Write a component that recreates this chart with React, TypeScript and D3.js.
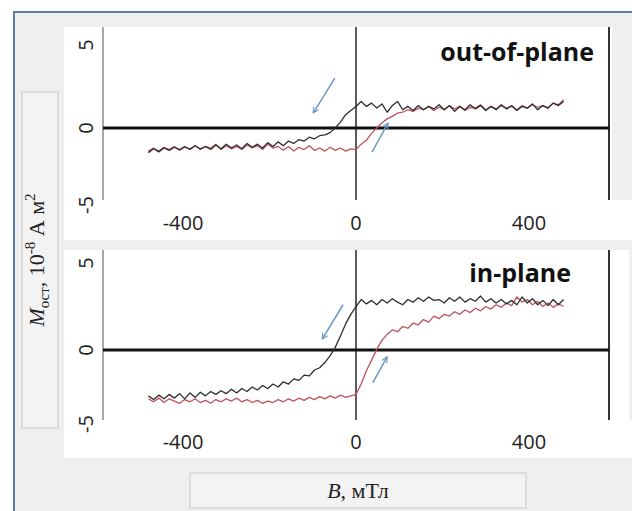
import { useEffect, useRef } from "react";
import * as d3 from "d3";

// поле B, мТл (общая сетка для всех кривых)
const fieldB = [
  -480, -468, -456, -444, -432, -420, -408, -396, -384, -372, -360, -348, -336, -324, -312, -300,
  -288, -276, -264, -252, -240, -228, -216, -204, -192, -180, -168, -156, -144, -132, -120, -108,
  -96, -84, -72, -60, -48, -36, -24, -12, 0, 12, 24, 36, 48, 60, 72, 84, 96, 108, 120, 132, 144,
  156, 168, 180, 192, 204, 216, 228, 240, 252, 264, 276, 288, 300, 312, 324, 336, 348, 360, 372,
  384, 396, 408, 420, 432, 444, 456, 468, 480,
];

// out-of-plane: спуск (чёрная) и подъём (красная)
const outDown = [
  -1.6, -1.35, -1.55, -1.3, -1.45, -1.25, -1.4, -1.2, -1.4, -1.15, -1.35, -1.2, -1.4, -1.1, -1.35, -1.05,
  -1.3, -1.1, -1.35, -1.0, -1.25, -1.05, -1.3, -0.95, -1.2, -0.9, -1.15, -0.85, -1.0, -0.75, -0.85, -0.6,
  -0.7, -0.5, -0.45, -0.3, 0.0, 0.35, 0.8, 1.05, 1.3, 1.6, 1.3, 1.5, 1.2, 1.45, 0.95, 1.35, 1.6, 1.1,
  1.3, 1.05, 1.35, 1.1, 1.3, 1.15, 1.4, 1.1, 1.35, 1.0, 1.3, 1.1, 1.4, 1.15, 1.35, 1.05, 1.3, 1.1, 1.4,
  1.15, 1.35, 1.05, 1.3, 1.2, 1.45, 1.1, 1.35, 1.2, 1.5, 1.35, 1.6,
];
const outUp = [
  -1.5, -1.3, -1.5, -1.25, -1.4, -1.2, -1.45, -1.25, -1.35, -1.15, -1.4, -1.2, -1.3, -1.05, -1.4, -1.15,
  -1.35, -1.2, -1.4, -1.1, -1.3, -1.15, -1.4, -1.05, -1.3, -1.2, -1.45, -1.2, -1.5, -1.25, -1.4, -1.15,
  -1.45, -1.3, -1.5, -1.25, -1.45, -1.3, -1.5, -1.35, -1.4, -1.05, -0.8, -0.35, 0.0, 0.3, 0.55, 0.7,
  0.9, 0.95, 1.1, 1.0, 1.2, 1.1, 1.3, 1.05, 1.25, 1.1, 1.35, 1.15, 1.3, 1.05, 1.25, 1.2, 1.4, 1.1, 1.3,
  1.15, 1.35, 1.2, 1.3, 1.1, 1.35, 1.2, 1.4, 1.25, 1.35, 1.2, 1.5, 1.4, 1.7,
];

// in-plane
const inDown = [
  -3.1, -3.35, -3.05, -3.3, -3.0, -3.25, -2.95, -3.3, -2.9, -3.2, -2.85, -3.1, -2.8, -3.0, -2.75, -2.95,
  -2.65, -2.9, -2.6, -2.8, -2.5, -2.7, -2.4, -2.6, -2.3, -2.5, -2.15, -2.3, -1.95, -2.05, -1.7, -1.75,
  -1.35, -1.2, -0.85, -0.4, 0.15, 0.8, 1.5, 2.05, 2.5, 2.9, 2.65, 2.85, 2.6, 2.9, 2.7, 2.95, 2.75, 2.6,
  2.9, 2.75, 3.0, 2.8, 3.05, 2.85, 2.9, 2.7, 3.0, 2.8, 3.05, 2.75, 2.95, 2.8, 3.1, 2.75, 2.95, 2.7, 2.9,
  2.65, 2.85, 2.6, 3.05, 2.7, 2.95, 2.6, 2.85, 2.55, 2.9, 2.6, 2.9,
];
const inUp = [
  -3.3, -3.5, -3.25, -3.55, -3.3, -3.45, -3.6, -3.35, -3.5, -3.3, -3.55, -3.4, -3.6, -3.35, -3.5, -3.3,
  -3.45, -3.25, -3.5, -3.35, -3.55, -3.4, -3.6, -3.45, -3.55, -3.35, -3.5, -3.3, -3.45, -3.25, -3.4, -3.2,
  -3.35, -3.15, -3.3, -3.1, -3.25, -3.05, -3.2, -3.1, -3.0, -2.3, -1.4, -0.7, 0.05, 0.55, 0.9, 1.15,
  1.05, 1.35, 1.25, 1.55, 1.45, 1.75, 1.6, 1.95, 1.8, 2.05, 1.95, 2.2, 2.05, 2.3, 2.15, 2.4, 2.25, 2.5,
  2.35, 2.6, 2.45, 2.7, 2.55, 3.05, 2.75, 2.9, 2.6, 2.8, 2.5, 2.7, 2.45, 2.65, 2.5,
];

const xTicks = [-400, 0, 400];
const yTicks = [5, 0, -5];

// стрелки: [B0, M0, B1, M1]
const outArrows = [
  [-49, 3.0, -99, 0.9],
  [37, -1.56, 74, 0.3],
];
const inArrows = [
  [-30, 2.6, -78, 0.63],
  [39, -2.2, 72, -0.47],
];

const sans = "'Open Sans', 'Liberation Sans', sans-serif";
const serif = "'Liberation Serif', 'DejaVu Serif', serif";

export default function App() {
  const ref = useRef<SVGSVGElement | null>(null);

  useEffect(() => {
    if (!ref.current) return;
    const svg = d3.select(ref.current);
    svg.selectAll("*").remove();

    // рамка
    svg.append("rect")
      .attr("x", 14).attr("y", 12).attr("width", 640).attr("height", 520)
      .attr("fill", "#efefef").attr("stroke", "#5e7fa3").attr("stroke-width", 2);

    const x = d3.scaleLinear().domain([-585, 585]).range([103, 609]);

    const panels = [
      {
        title: "out-of-plane", titleX: 594, titleY: 61,
        down: outDown, up: outUp, arrows: outArrows,
        yRange: [205, 128, 45], top: 27, lineEnd: 200, bandBottom: 240,
        panelRight: 612, tickY: 222,
      },
      {
        title: "in-plane", titleX: 571, titleY: 282,
        down: inDown, up: inUp, arrows: inArrows,
        yRange: [424, 350, 263], top: 250, lineEnd: 420, bandBottom: 458,
        panelRight: 629, tickY: 441,
      },
    ];

    const defs = svg.append("defs");
    defs.append("marker")
      .attr("id", "head")
      .attr("viewBox", "0 0 10 10")
      .attr("refX", 9).attr("refY", 5)
      .attr("markerWidth", 7).attr("markerHeight", 7)
      .attr("markerUnits", "userSpaceOnUse")
      .attr("orient", "auto")
      .append("path")
      .attr("d", "M1,1 L9,5 L1,9")
      .attr("fill", "none")
      .attr("stroke", "#6a98c4")
      .attr("stroke-width", 1.6);

    panels.forEach((p) => {
      const y = d3.scaleLinear().domain([-5, 0, 5]).range(p.yRange);
      const g = svg.append("g");

      // белая подложка
      g.append("rect")
        .attr("x", 64).attr("y", p.top).attr("width", p.panelRight - 64).attr("height", p.bandBottom - p.top)
        .attr("fill", "#ffffff");
      g.append("rect")
        .attr("x", 64).attr("y", p.lineEnd).attr("width", 632 - 64).attr("height", p.bandBottom - p.lineEnd)
        .attr("fill", "#ffffff");

      // оси
      g.append("line")
        .attr("x1", x(-585)).attr("x2", x(-585)).attr("y1", p.top).attr("y2", p.lineEnd)
        .attr("stroke", "#8a8a8a").attr("stroke-width", 1.5);
      g.append("line")
        .attr("x1", x(0)).attr("x2", x(0)).attr("y1", p.top).attr("y2", p.lineEnd)
        .attr("stroke", "#333").attr("stroke-width", 1.6);
      g.append("line")
        .attr("x1", x(585)).attr("x2", x(585)).attr("y1", p.top).attr("y2", p.lineEnd)
        .attr("stroke", "#333").attr("stroke-width", 2);
      g.append("line")
        .attr("x1", x(-585)).attr("x2", x(585)).attr("y1", y(0)).attr("y2", y(0))
        .attr("stroke", "#111").attr("stroke-width", 3);

      // подписи делений
      g.selectAll(".yt").data(yTicks).enter().append("text")
        .attr("transform", (d) => `translate(85,${y(d)}) rotate(-90)`)
        .attr("text-anchor", "middle").attr("dominant-baseline", "central")
        .attr("font-family", sans).attr("font-size", 20).attr("fill", "#222")
        .text((d) => String(d));
      g.selectAll(".xt").data(xTicks).enter().append("text")
        .attr("x", (d) => x(d)).attr("y", p.tickY)
        .attr("text-anchor", "middle").attr("dominant-baseline", "central")
        .attr("font-family", sans).attr("font-size", 20).attr("fill", "#222")
        .text((d) => String(d));

      // кривые
      const line = d3.line<number>()
        .x((_, i) => x(fieldB[i]))
        .y((d) => y(d));
      g.append("path").datum(p.up)
        .attr("fill", "none").attr("stroke", "#c0525c").attr("stroke-width", 1.3)
        .attr("stroke-linejoin", "round").attr("d", line);
      g.append("path").datum(p.down)
        .attr("fill", "none").attr("stroke", "#2e2e2e").attr("stroke-width", 1.3)
        .attr("stroke-linejoin", "round").attr("d", line);

      // стрелки
      g.selectAll(".arr").data(p.arrows).enter().append("line")
        .attr("x1", (d) => x(d[0])).attr("y1", (d) => y(d[1]))
        .attr("x2", (d) => x(d[2])).attr("y2", (d) => y(d[3]))
        .attr("stroke", "#6a98c4").attr("stroke-width", 1.5)
        .attr("marker-end", "url(#head)");

      g.append("text")
        .attr("x", p.titleX).attr("y", p.titleY)
        .attr("text-anchor", "end")
        .attr("font-family", sans).attr("font-weight", 700).attr("font-size", 25)
        .attr("fill", "#111")
        .text(p.title);
    });

    // подписи осей
    svg.append("rect")
      .attr("x", 22).attr("y", 92).attr("width", 36).attr("height", 336)
      .attr("fill", "#f3f3f3").attr("stroke", "#d6d6d6").attr("stroke-width", 1.5);
    const yl = svg.append("text")
      .attr("transform", "translate(44,260) rotate(-90)")
      .attr("text-anchor", "middle")
      .attr("font-family", serif).attr("font-size", 22).attr("fill", "#222");
    yl.append("tspan").attr("font-style", "italic").text("M");
    yl.append("tspan").attr("font-size", 15).attr("dy", 5).text("ост");
    yl.append("tspan").attr("dy", -5).text(", 10");
    yl.append("tspan").attr("font-size", 15).attr("dy", -9).text("-8");
    yl.append("tspan").attr("dy", 9).text(" А м");
    yl.append("tspan").attr("font-size", 15).attr("dy", -9).text("2");

    svg.append("rect")
      .attr("x", 190).attr("y", 473).attr("width", 336).attr("height", 35)
      .attr("fill", "#f3f3f3").attr("stroke", "#d6d6d6").attr("stroke-width", 1.5);
    const xl = svg.append("text")
      .attr("x", 358).attr("y", 498)
      .attr("text-anchor", "middle")
      .attr("font-family", serif).attr("font-size", 22).attr("fill", "#222");
    xl.append("tspan").attr("font-style", "italic").text("B");
    xl.append("tspan").text(", мТл");
  }, []);

  return (
    <svg
      ref={ref}
      width={632}
      height={511}
      style={{ position: "absolute", left: 0, top: 0, background: "#fff" }}
    />
  );
}
